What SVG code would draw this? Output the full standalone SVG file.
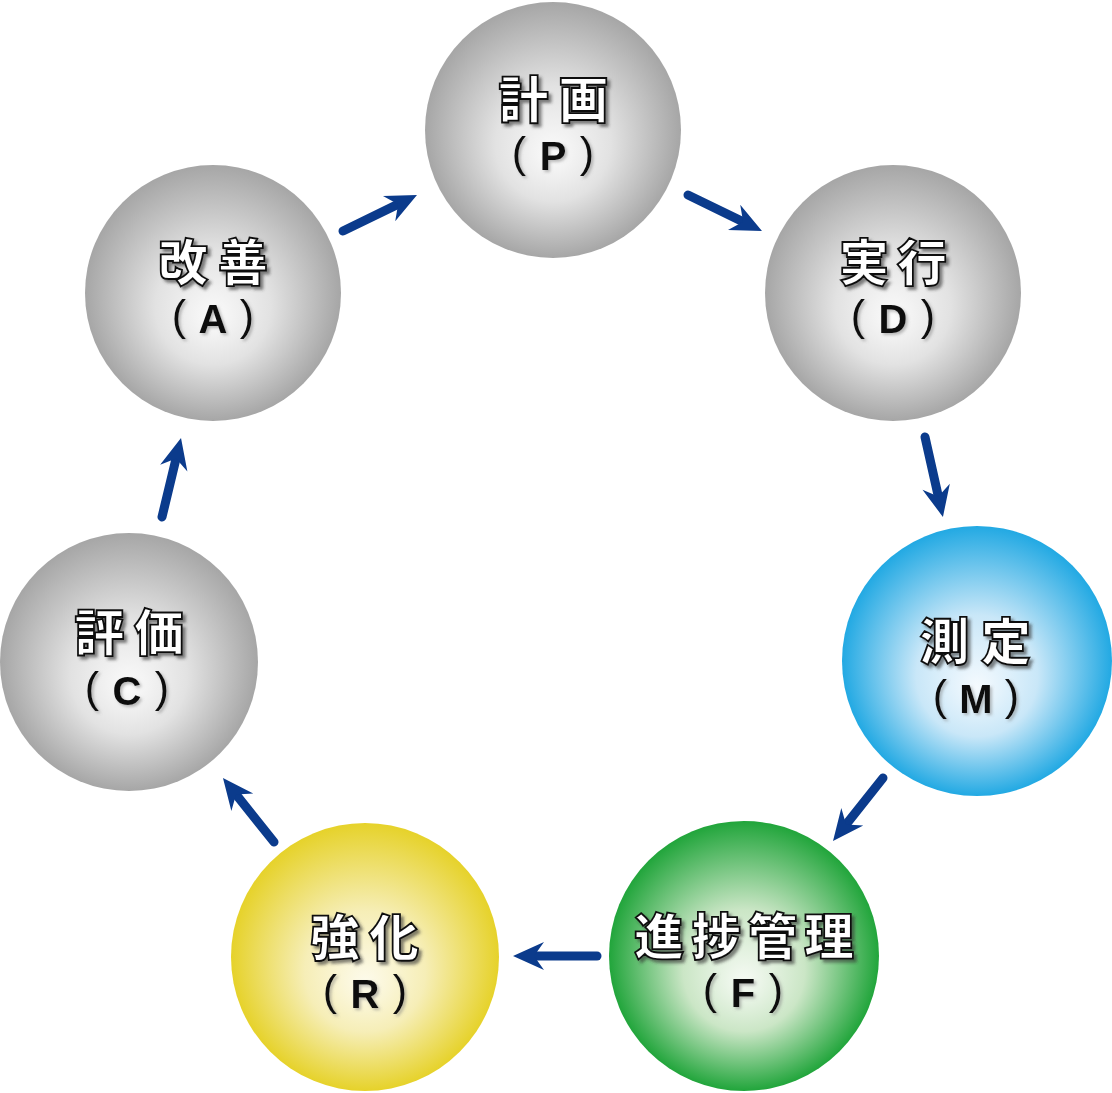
<svg xmlns="http://www.w3.org/2000/svg" width="1112" height="1093" viewBox="0 0 1112 1093">
<defs>
<radialGradient id="gGray" cx="50%" cy="50%" r="50%" fx="50%" fy="60%">
<stop offset="0" stop-color="#fbfbfb"/>
<stop offset="0.45" stop-color="#e2e2e2"/>
<stop offset="1" stop-color="#a6a6a6"/>
</radialGradient>
<radialGradient id="gBlue" cx="50%" cy="50%" r="50%" fx="50%" fy="60%">
<stop offset="0" stop-color="#f5fafe"/>
<stop offset="0.45" stop-color="#c9e7f8"/>
<stop offset="1" stop-color="#22a9e3"/>
</radialGradient>
<radialGradient id="gGreen" cx="50%" cy="50%" r="50%" fx="50%" fy="60%">
<stop offset="0" stop-color="#f7fbf5"/>
<stop offset="0.45" stop-color="#cbe6c6"/>
<stop offset="1" stop-color="#21a53b"/>
</radialGradient>
<radialGradient id="gYellow" cx="50%" cy="50%" r="50%" fx="50%" fy="60%">
<stop offset="0" stop-color="#fdfbec"/>
<stop offset="0.45" stop-color="#f6eeb7"/>
<stop offset="1" stop-color="#e6d22a"/>
</radialGradient>
<filter id="shTitle" x="-20%" y="-20%" width="140%" height="140%">
<feDropShadow dx="3" dy="3" stdDeviation="1.5" flood-color="#333" flood-opacity="0.6"/>
</filter>
<filter id="shSub" x="-20%" y="-20%" width="140%" height="140%">
<feDropShadow dx="2" dy="2" stdDeviation="1.5" flood-color="#777" flood-opacity="0.5"/>
</filter>
<marker id="ah" markerUnits="userSpaceOnUse" viewBox="-32 -16 34 32" markerWidth="34" markerHeight="32" refX="-18" refY="0" orient="auto">
<path d="M0,0 L-31,-14 L-21,0 L-31,14 Z" fill="#0b3b8c"/>
</marker>
</defs>
<style>
.title{font-family:"Noto Sans CJK JP","Noto Sans CJK SC",sans-serif;font-weight:900;font-size:50px;fill:#fff;stroke:#111;stroke-width:1.8px;text-anchor:middle;filter:url(#shTitle)}
.sub{font-family:"Liberation Sans",Arial,sans-serif;font-weight:700;font-size:40px;fill:#111;text-anchor:middle;filter:url(#shSub)}
.par{font-family:"Liberation Sans",Arial,sans-serif;font-weight:400;font-size:43px;fill:#111;text-anchor:middle;filter:url(#shSub)}
.arr{stroke:#0b3b8c;stroke-width:9;stroke-linecap:round;fill:none;marker-end:url(#ah)}
</style>
<rect width="1112" height="1093" fill="#fff"/>

<g id="node-P">
<circle cx="553" cy="130" r="128" fill="url(#gGray)"/>
<text class="title" x="523.5 583.5" y="118">計画</text>
<text class="par" x="519" y="167">(</text><text class="sub" x="553" y="170">P</text><text class="par" x="587" y="167">)</text>
</g>

<g id="node-D">
<circle cx="893" cy="293" r="128" fill="url(#gGray)"/>
<text class="title" x="864 922" y="281">実行</text>
<text class="par" x="858" y="330">(</text><text class="sub" x="893" y="333">D</text><text class="par" x="928" y="330">)</text>
</g>

<g id="node-M">
<circle cx="977" cy="661" r="135" fill="url(#gBlue)"/>
<text class="title" x="944.5 1006" y="660">測定</text>
<text class="par" x="940" y="710">(</text><text class="sub" x="976" y="713">M</text><text class="par" x="1012" y="710">)</text>
</g>

<g id="node-F">
<circle cx="744" cy="956" r="135" fill="url(#gGreen)"/>
<text class="title" x="659 716.5 772.5 829" y="955">進捗管理</text>
<text class="par" x="710" y="1004">(</text><text class="sub" x="743" y="1007">F</text><text class="par" x="776" y="1004">)</text>
</g>

<g id="node-R">
<circle cx="365" cy="957" r="134" fill="url(#gYellow)"/>
<text class="title" x="335 394" y="956">強化</text>
<text class="par" x="330" y="1005">(</text><text class="sub" x="365" y="1008">R</text><text class="par" x="400" y="1005">)</text>
</g>

<g id="node-C">
<circle cx="129" cy="662" r="129" fill="url(#gGray)"/>
<text class="title" x="99.5 159" y="651">評価</text>
<text class="par" x="92" y="702">(</text><text class="sub" x="127" y="705">C</text><text class="par" x="162" y="702">)</text>
</g>

<g id="node-A">
<circle cx="213" cy="293" r="128" fill="url(#gGray)"/>
<text class="title" x="183 243" y="281">改善</text>
<text class="par" x="179" y="330">(</text><text class="sub" x="213" y="333">A</text><text class="par" x="247" y="330">)</text>
</g>

<g id="connectors">
<line class="arr" x1="343" y1="231" x2="400.8" y2="202.9"/>
<line class="arr" x1="688" y1="195" x2="745.8" y2="223.1"/>
<line class="arr" x1="925" y1="437" x2="939" y2="499.4"/>
<line class="arr" x1="883" y1="778" x2="844.2" y2="826.9"/>
<line class="arr" x1="597" y1="956" x2="531" y2="956"/>
<line class="arr" x1="274" y1="842" x2="234.2" y2="792.1"/>
<line class="arr" x1="162" y1="517" x2="176.8" y2="455.5"/>
</g>
</svg>
